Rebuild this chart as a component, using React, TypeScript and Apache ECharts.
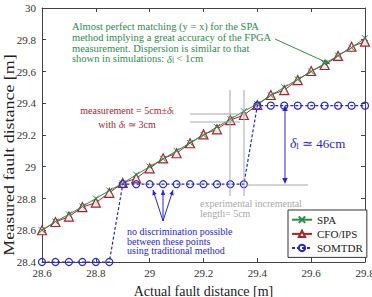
import React, { useEffect, useRef } from "react";
import * as echarts from "echarts";

const actual = [28.6, 28.65, 28.7, 28.75, 28.8, 28.85, 28.9, 28.95, 29.0, 29.05, 29.1, 29.15, 29.2, 29.25, 29.3, 29.35, 29.4, 29.45, 29.5, 29.55, 29.6, 29.65, 29.7, 29.75, 29.8];
const spa = [28.6, 28.655, 28.7, 28.75, 28.8, 28.85, 28.895, 28.95, 29.0, 29.05, 29.1, 29.15, 29.2, 29.25, 29.3, 29.35, 29.395, 29.45, 29.5, 29.55, 29.6, 29.65, 29.7, 29.75, 29.81];
const cfo = [28.6, 28.652, 28.686, 28.746, 28.774, 28.836, 28.898, 28.927, 28.99, 29.053, 29.085, 29.148, 29.204, 29.236, 29.294, 29.326, 29.389, 29.452, 29.483, 29.546, 29.603, 29.641, 29.698, 29.756, 29.788];
const somtdr = [28.4, 28.4, 28.4, 28.4, 28.4, 28.4, 28.89, 28.89, 28.89, 28.89, 28.89, 28.89, 28.89, 28.89, 28.89, 28.89, 29.385, 29.385, 29.385, 29.385, 29.385, 29.385, 29.385, 29.385, 29.385];
const seriesNames = ["SPA", "CFO/IPS", "SOMTDR"];

const FONT = "Liberation Serif";
const GREEN = "#2e8b4e";
const RED = "#a8232e";
const BLUE = "#2626d0";
const GREY = "#a8a8a8";

const pairs = (ys: number[]) => actual.map((x, i) => [x, ys[i]]);

function arrowHead(x1: number, y1: number, x2: number, y2: number, color: string, size = 5) {
  const a = Math.atan2(y2 - y1, x2 - x1);
  const w = size * 0.45;
  const bx = x2 - size * Math.cos(a);
  const by = y2 - size * Math.sin(a);
  return {
    type: "polygon",
    shape: {
      points: [
        [x2, y2],
        [bx + w * Math.sin(a), by - w * Math.cos(a)],
        [bx - w * Math.sin(a), by + w * Math.cos(a)],
      ],
    },
    style: { fill: color },
    z: 100,
  };
}

function line(x1: number, y1: number, x2: number, y2: number, color: string, width = 1) {
  return { type: "line", shape: { x1, y1, x2, y2 }, style: { stroke: color, lineWidth: width }, z: 100 };
}

function arrow(x1: number, y1: number, x2: number, y2: number, color: string, size = 5) {
  return [line(x1, y1, x2, y2, color), arrowHead(x1, y1, x2, y2, color, size)];
}

function text(x: number, y: number, t: string, color: string, size: number, align = "left", rich: any = undefined, lineHeight?: number) {
  return {
    type: "text",
    x,
    y,
    z: 100,
    style: {
      text: t,
      fill: color,
      fontFamily: FONT,
      fontSize: size,
      align,
      verticalAlign: "middle",
      lineHeight,
      rich,
    },
  };
}

export default function App() {
  const ref = useRef<HTMLDivElement>(null);
  useEffect(() => {
    if (!ref.current) return;
    const chart = echarts.init(ref.current, undefined, { renderer: "svg" });
    const fmt = (v: number) => String(parseFloat(v.toFixed(1)));
    const axisCommon = {
      type: "value",
      axisLine: { show: true, lineStyle: { color: "#444", width: 1 } },
      axisTick: { show: true, inside: true, length: 4, lineStyle: { color: "#444" } },
      splitLine: { show: false },
    };
    const subRich = (color: string, size: number, lh: number) => ({
      m: { fontFamily: FONT, fontSize: size, color, lineHeight: lh, verticalAlign: "bottom" },
      s: { fontFamily: FONT, fontSize: size * 0.7, color, lineHeight: lh, verticalAlign: "bottom" },
      g: { fontFamily: FONT, fontSize: size * 1.05, color, fontStyle: "italic", lineHeight: lh, verticalAlign: "bottom" },
    });
    const gR = subRich(GREEN, 10.5, 10.6);
    const rR = subRich(RED, 10, 13);
    const bR = subRich(BLUE, 13, 16);

    const graphics: any[] = [
      text(
        72,
        43,
        "{m|Almost perfect matching (y = x) for the SPA}\n{m|method implying a great accuracy of the FPGA}\n{m|measurement. Dispersion is similar to that}\n{m|shown in simulations: }{g|δ}{s|l}{m| < 1cm}",
        GREEN,
        10.5,
        "left",
        gR
      ),
      ...arrow(275, 39, 330, 64, GREEN, 6),
      text(127, 109, "{m|measurement = 5cm±}{g|δ}{s|l}", RED, 10, "center", rR),
      text(127, 123, "{m|with }{g|δ}{s|l}{m| ≃ 3cm}", RED, 10, "center", rR),
      line(190, 114, 246, 114, GREY),
      line(190, 122, 240, 122, GREY),
      line(230, 90, 230, 196, GREY),
      line(244, 90, 244, 196, GREY),
      line(246, 185, 308, 185, GREY),
      text(200, 208, "experimental incremental\nlength= 5cm", GREY, 10, "left", undefined, 10),
      line(285, 110, 285, 178, BLUE),
      arrowHead(285, 120, 285, 105, BLUE, 6),
      arrowHead(285, 170, 285, 184, BLUE, 6),
      text(290, 142, "{g|δ}{s|l}{m| ≃ 46cm}", BLUE, 13, "left", bR),
      ...arrow(163, 221, 153, 190, BLUE, 5),
      ...arrow(163, 221, 163, 190, BLUE, 5),
      ...arrow(163, 221, 173, 190, BLUE, 5),
      text(127, 241, "no discrimination possible\nbetween these points\nusing traditional method", BLUE, 10, "left", undefined, 9.6),
      {
        type: "text",
        x: 9,
        y: 155,
        rotation: Math.PI / 2,
        scaleX: 1.28,
        z: 100,
        style: {
          text: "Measured fault distance [m]",
          fill: "#222",
          fontFamily: FONT,
          fontSize: 14,
          align: "center",
          verticalAlign: "middle",
        },
      },
    ];

    chart.setOption({
      animation: false,
      backgroundColor: "#fff",
      textStyle: { fontFamily: FONT },
      grid: { left: 42, right: 7, top: 8, bottom: 35, containLabel: false, outerBoundsMode: "none" },
      xAxis: [
        {
          ...axisCommon,
          min: 28.6,
          max: 29.8,
          interval: 0.2,
          name: "Actual fault distance [m]",
          nameLocation: "middle",
          nameGap: 22,
          nameTextStyle: { fontFamily: FONT, fontSize: 14, color: "#222" },
          axisLabel: { formatter: fmt, fontFamily: FONT, fontSize: 11, color: "#333", margin: 5 },
        },
        {
          ...axisCommon,
          position: "top",
          min: 28.6,
          max: 29.8,
          interval: 0.2,
          axisLabel: { show: false },
        },
      ],
      yAxis: [
        {
          ...axisCommon,
          min: 28.4,
          max: 30,
          interval: 0.2,
          axisLabel: { formatter: fmt, fontFamily: FONT, fontSize: 11, color: "#333", margin: 6 },
        },
        {
          ...axisCommon,
          position: "right",
          min: 28.4,
          max: 30,
          interval: 0.2,
          axisLabel: { show: false },
        },
      ],
      legend: {
        orient: "vertical",
        left: 288,
        top: 210,
        itemWidth: 20,
        itemHeight: 8,
        itemGap: 3,
        padding: [4, 4, 4, 3],
        borderColor: "#333",
        borderWidth: 1,
        backgroundColor: "#fff",
        borderRadius: 0,
        textStyle: { fontFamily: FONT, fontSize: 11, color: "#222" },
        data: seriesNames,
      },
      series: [
        {
          name: seriesNames[0],
          type: "line",
          data: pairs(spa),
          symbol: "path://M0,0L10,10M0,10L10,0",
          symbolSize: 6,
          lineStyle: { color: GREEN, width: 1 },
          itemStyle: { color: "none", borderColor: GREEN, borderWidth: 1 },
          clip: false,
          z: 3,
        },
        {
          name: seriesNames[1],
          type: "line",
          data: pairs(cfo),
          symbol: "triangle",
          symbolSize: 9,
          lineStyle: { color: RED, width: 1 },
          itemStyle: { color: "#fbe9ea", borderColor: RED, borderWidth: 1.2 },
          clip: false,
          z: 2,
        },
        {
          name: seriesNames[2],
          type: "line",
          data: pairs(somtdr),
          symbol: "circle",
          symbolSize: 7,
          lineStyle: { color: BLUE, width: 1.2, type: [3, 2] },
          itemStyle: { color: "rgba(255,255,255,0)", borderColor: BLUE, borderWidth: 1.2 },
          clip: false,
          z: 4,
        },
      ],
      graphic: graphics,
    });
    return () => chart.dispose();
  }, []);
  return <div ref={ref} style={{ width: 372, height: 297, position: "absolute", left: 0, top: 0 }} />;
}
